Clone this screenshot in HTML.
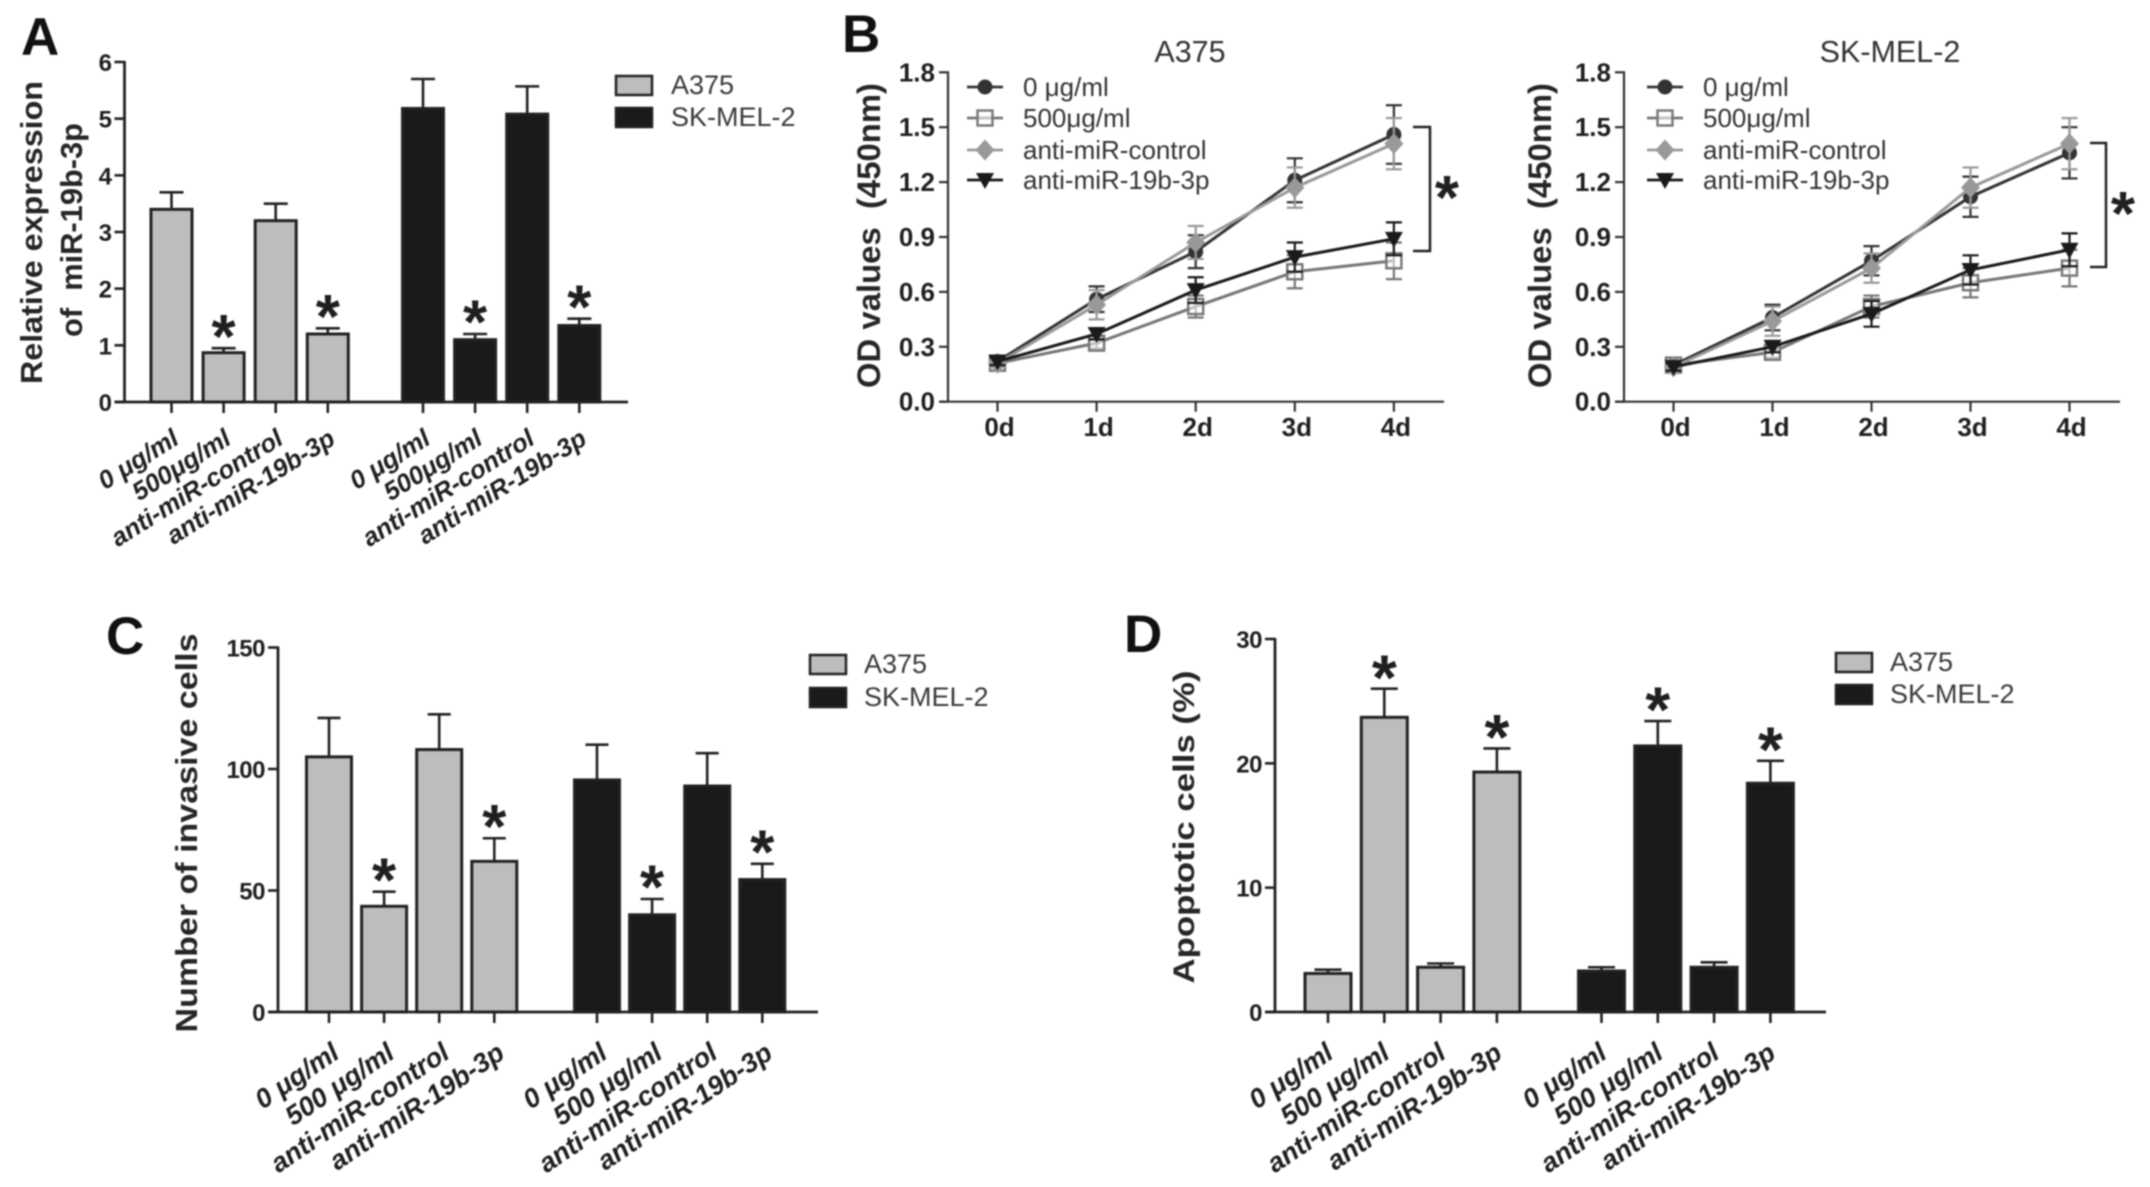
<!DOCTYPE html>
<html lang="en">
<head>
<meta charset="utf-8">
<title>miR-19b-3p figure</title>
<style>
html,body{margin:0;padding:0;background:#fff;width:2150px;height:1187px;overflow:hidden}
svg{display:block;filter:blur(0.8px)}
text{font-family:"Liberation Sans",sans-serif;fill:#1f1f1f}
.letter{font-size:53px;font-weight:700;fill:#111}
.ttl{font-weight:700;fill:#262626}
.leg{font-size:27px;fill:#3a3a3a}
.legb{font-size:26px;fill:#333}
.title{font-size:30.5px;fill:#333;text-anchor:middle}
</style>
</head>
<body>
<svg id="chart" xmlns="http://www.w3.org/2000/svg" width="2150" height="1187" viewBox="0 0 2150 1187">
  <rect x="0" y="0" width="2150" height="1187" fill="#fff"/>

  <text class="letter" x="21" y="55">A</text>
  <text class="letter" x="842" y="52">B</text>
  <text class="letter" x="106" y="654">C</text>
  <text class="letter" x="1124" y="652">D</text>

  <g>
    <text class="ttl" font-size="31" transform="translate(42,232.5) rotate(-90)" text-anchor="middle" textLength="303" lengthAdjust="spacingAndGlyphs">Relative expression</text>
    <text class="ttl" font-size="31" transform="translate(82,230) rotate(-90)" text-anchor="middle" textLength="214" lengthAdjust="spacingAndGlyphs" xml:space="preserve">of  miR-19b-3p</text>
  </g>
  <text class="ttl" font-size="32" transform="translate(880,235.5) rotate(-90)" text-anchor="middle" textLength="305" lengthAdjust="spacingAndGlyphs" xml:space="preserve">OD values  (450nm)</text>
  <text class="ttl" font-size="32" transform="translate(1551,235.5) rotate(-90)" text-anchor="middle" textLength="305" lengthAdjust="spacingAndGlyphs" xml:space="preserve">OD values  (450nm)</text>
  <text class="ttl" font-size="31" transform="translate(197,833) rotate(-90)" text-anchor="middle" textLength="399" lengthAdjust="spacingAndGlyphs">Number of invasive cells</text>
  <text class="ttl" font-size="30" transform="translate(1194,827) rotate(-90)" text-anchor="middle" textLength="313" lengthAdjust="spacingAndGlyphs">Apoptotic cells (%)</text>

  <text class="title" x="1190" y="62">A375</text>
  <text class="title" x="1890" y="62">SK-MEL-2</text>

  <g>
    <rect x="616" y="76" width="36" height="19" fill="#bdbdbd" stroke="#222" stroke-width="2.5"/>
    <text class="leg" x="671" y="94">A375</text>
    <rect x="616" y="108" width="36" height="19" fill="#1a1a1a" stroke="#222" stroke-width="2.5"/>
    <text class="leg" x="671" y="126">SK-MEL-2</text>
  </g>
  <g>
    <rect x="810" y="655" width="36" height="19" fill="#bdbdbd" stroke="#222" stroke-width="2.5"/>
    <text class="leg" x="864" y="673">A375</text>
    <rect x="810" y="688" width="36" height="19" fill="#1a1a1a" stroke="#222" stroke-width="2.5"/>
    <text class="leg" x="864" y="706">SK-MEL-2</text>
  </g>
  <g>
    <rect x="1836" y="653" width="36" height="19" fill="#bdbdbd" stroke="#222" stroke-width="2.5"/>
    <text class="leg" x="1890" y="671">A375</text>
    <rect x="1836" y="685" width="36" height="19" fill="#1a1a1a" stroke="#222" stroke-width="2.5"/>
    <text class="leg" x="1890" y="703">SK-MEL-2</text>
  </g>

  <g>
    <path d="M1413 127H1430V251H1413" fill="none" stroke="#222" stroke-width="2.5"/>
    <text x="1447" y="219" font-size="62" font-weight="700" text-anchor="middle">*</text>
  </g>
  <g>
    <path d="M2090 143H2106V267H2090" fill="none" stroke="#222" stroke-width="2.5"/>
    <text x="2123" y="235" font-size="62" font-weight="700" text-anchor="middle">*</text>
  </g>
</svg>
<script>
// ---- categories ----
var barCategories = ['0 \u03bcg/ml', '500\u03bcg/ml', 'anti-miR-control', 'anti-miR-19b-3p'];
var barCategoriesSpaced = ['0 \u03bcg/ml', '500 \u03bcg/ml', 'anti-miR-control', 'anti-miR-19b-3p'];
var lineCategories = ['0d', '1d', '2d', '3d', '4d'];

// ---- panel A ----
var aTicks = [0, 1, 2, 3, 4, 5, 6];
var aA375Values = [3.4, 0.87, 3.2, 1.2];
var aA375ErrTop = [3.7, 0.95, 3.5, 1.3];
var aSkmelValues = [5.18, 1.1, 5.08, 1.35];
var aSkmelErrTop = [5.7, 1.2, 5.57, 1.47];
var aStars = [false, true, false, true];

// ---- panel C ----
var cTicks = [0, 50, 100, 150];
var cA375Values = [105, 43.5, 108, 62];
var cA375ErrTop = [121, 49.5, 122.5, 71.5];
var cSkmelValues = [95.5, 40, 93, 54.5];
var cSkmelErrTop = [110, 46.5, 106.5, 61];
var cStars = [false, true, false, true];

// ---- panel D ----
var dTicks = [0, 10, 20, 30];
var dA375Values = [3.1, 23.7, 3.6, 19.3];
var dA375ErrTop = [3.4, 26, 3.9, 21.2];
var dSkmelValues = [3.3, 21.4, 3.6, 18.4];
var dSkmelErrTop = [3.6, 23.4, 4, 20.2];
var dStars = [false, true, false, true];

// ---- panel B ----
var odTicks = ['0.0', '0.3', '0.6', '0.9', '1.2', '1.5', '1.8'];
var seriesNames = ['0 \u03bcg/ml', '500\u03bcg/ml', 'anti-miR-control', 'anti-miR-19b-3p'];

var b1Control = [0.22, 0.56, 0.82, 1.21, 1.46];
var b1ControlErr = [0.02, 0.07, 0.09, 0.12, 0.16];
var b1Dose500 = [0.21, 0.32, 0.52, 0.71, 0.77];
var b1Dose500Err = [0.02, 0.03, 0.06, 0.09, 0.10];
var b1AntiCtrl = [0.21, 0.53, 0.87, 1.17, 1.41];
var b1AntiCtrlErr = [0.02, 0.08, 0.09, 0.11, 0.14];
var b1Anti19b = [0.22, 0.37, 0.61, 0.79, 0.89];
var b1Anti19bErr = [0.02, 0.03, 0.07, 0.08, 0.09];

var b2Control = [0.20, 0.46, 0.77, 1.12, 1.36];
var b2ControlErr = [0.02, 0.07, 0.08, 0.11, 0.14];
var b2Dose500 = [0.20, 0.27, 0.52, 0.65, 0.73];
var b2Dose500Err = [0.02, 0.03, 0.06, 0.08, 0.10];
var b2AntiCtrl = [0.19, 0.44, 0.73, 1.17, 1.41];
var b2AntiCtrlErr = [0.02, 0.08, 0.08, 0.11, 0.14];
var b2Anti19b = [0.19, 0.30, 0.48, 0.72, 0.83];
var b2Anti19bErr = [0.02, 0.03, 0.07, 0.08, 0.09];

var NS = 'http://www.w3.org/2000/svg';
var svg = document.getElementById('chart');

function el(parent, tag, attrs, txt) {
  var n = document.createElementNS(NS, tag);
  for (var k in attrs) n.setAttribute(k, attrs[k]);
  if (txt !== undefined) n.textContent = txt;
  parent.appendChild(n);
  return n;
}

function drawBarPanel(name, o) {
  var g = el(svg, 'g', {});
  
  
  var yMax = o.ticks[o.ticks.length - 1];
  var y = function (v) { return o.y0 + (o.yTop - o.y0) * v / yMax; };
  var x = function (group, i) { return o.start + o.step * i + group * o.groupOffset; };

  var groups = [
    { vals: o.a375, tops: o.a375Top, fill: '#bdbdbd', key: 'a375' },
    { vals: o.skmel, tops: o.skmelTop, fill: '#1a1a1a', key: 'skmel2' }
  ];
  groups.forEach(function (s, gi) {
    s.vals.forEach(function (v, i) {
      var cx = x(gi, i);
      var err = el(g, 'path', { d: 'M' + cx + ' ' + y(v) + 'V' + y(s.tops[i]) + 'M' + (cx - o.cap / 2) + ' ' + y(s.tops[i]) + 'H' + (cx + o.cap / 2), stroke: '#222', 'stroke-width': 2.6, fill: 'none' });
      
      
      var bar = el(g, 'rect', { x: cx - o.barW / 2 + 1.5, y: y(v), width: o.barW - 3, height: o.y0 - y(v), fill: s.fill, stroke: '#222', 'stroke-width': 3 });
      
      
      if (o.stars[i]) {
        var star = el(g, 'text', { x: cx, y: y(s.tops[i]) - 17 + 0.43 * o.starSize, 'font-size': o.starSize, 'font-weight': 700, 'text-anchor': 'middle', fill: '#111' }, '*');
        
        
      }
      var tick = el(g, 'line', { x1: cx, x2: cx, y1: o.y0, y2: o.y0 + 11, stroke: '#222', 'stroke-width': 2.6 });
      
      
      var lx = cx + o.labelDx, ly = o.y0 + o.labelDy;
      var lab = el(g, 'text', { transform: 'translate(' + lx + ',' + ly + ') rotate(' + (-o.angle) + ')', 'text-anchor': 'end', 'font-size': o.labelSize, 'font-weight': 700, 'font-style': 'italic' }, o.categories[i]);
      
      
    });
  });

  var yAxis = el(g, 'line', { x1: o.axisX, x2: o.axisX, y1: y(yMax) - 1, y2: o.y0, stroke: '#222', 'stroke-width': 2.8 });
  
  
  var xAxis = el(g, 'line', { x1: o.axisX - o.tickLen, x2: o.axisEnd, y1: o.y0, y2: o.y0, stroke: '#222', 'stroke-width': 2.8 });
  
  
  o.ticks.forEach(function (t) {
    var tk = el(g, 'line', { x1: o.axisX - o.tickLen, x2: o.axisX, y1: y(t), y2: y(t), stroke: '#222', 'stroke-width': 2.6 });
    
    
    var tl = el(g, 'text', { x: o.axisX - o.tickLen - 3, y: y(t) + 9, 'text-anchor': 'end', 'font-size': 24, 'font-weight': 700 , 'letter-spacing': '-0.5' }, t);
    
    
  });
}

function marker(g, kind, cx, cy) {
  var m;
  if (kind === 0) m = el(g, 'circle', { cx: cx, cy: cy, r: 7.5, fill: '#333' });
  if (kind === 1) m = el(g, 'rect', { x: cx - 7.5, y: cy - 7.5, width: 15, height: 15, fill: '#fff', 'fill-opacity': 0.55, stroke: '#777', 'stroke-width': 2.4 });
  if (kind === 2) m = el(g, 'path', { d: 'M' + cx + ' ' + (cy - 10.5) + 'L' + (cx + 9.5) + ' ' + cy + 'L' + cx + ' ' + (cy + 10.5) + 'L' + (cx - 9.5) + ' ' + cy + 'Z', fill: '#999' });
  if (kind === 3) m = el(g, 'path', { d: 'M' + (cx - 9) + ' ' + (cy - 7) + 'H' + (cx + 9) + 'L' + cx + ' ' + (cy + 9) + 'Z', fill: '#1a1a1a' });
  return m;
}

function drawLinePanel(name, o) {
  var g = el(svg, 'g', {});
  
  
  var yMax = parseFloat(odTicks[odTicks.length - 1]);
  var y = function (v) { return 401.7 + (72.3 - 401.7) * v / yMax; };
  var x = function (i) { return o.x0 + o.step * i; };
  var styles = ['#333', '#777', '#999', '#1a1a1a'];

  var yAxis = el(g, 'line', { x1: o.axisX, x2: o.axisX, y1: y(yMax) - 1, y2: y(0), stroke: '#333', 'stroke-width': 2.2 });
  
  
  var xAxis = el(g, 'line', { x1: o.axisX - 9, x2: o.axisEnd, y1: y(0), y2: y(0), stroke: '#333', 'stroke-width': 2.2 });
  
  
  odTicks.forEach(function (t) {
    var v = parseFloat(t);
    var tk = el(g, 'line', { x1: o.axisX - 9, x2: o.axisX, y1: y(v), y2: y(v), stroke: '#333', 'stroke-width': 2.2 });
    
    
    var tl = el(g, 'text', { x: o.axisX - 13, y: y(v) + 9, 'text-anchor': 'end', 'font-size': 26, 'font-weight': 700 }, t);
    
    
  });
  lineCategories.forEach(function (c, i) {
    var tk = el(g, 'line', { x1: x(i), x2: x(i), y1: y(0), y2: y(0) + 10, stroke: '#333', 'stroke-width': 2.2 });
    
    
    var tl = el(g, 'text', { x: x(i) + 2, y: 436, 'text-anchor': 'middle', 'font-size': 26, 'font-weight': 700 }, c);
    
    
  });

  o.series.forEach(function (s, k) {
    var sg = el(g, 'g', {});
    
    
    var pts = s.vals.map(function (v, i) { return x(i) + ',' + y(v); }).join(' ');
    var line = el(sg, 'polyline', { points: pts, fill: 'none', stroke: styles[k], 'stroke-width': 3 });
    
    
    s.vals.forEach(function (v, i) {
      var hi = y(v + s.err[i]), lo = y(v - s.err[i]), cx = x(i);
      var eb = el(sg, 'path', { d: 'M' + cx + ' ' + lo + 'V' + hi + 'M' + (cx - 8) + ' ' + hi + 'H' + (cx + 8) + 'M' + (cx - 8) + ' ' + lo + 'H' + (cx + 8), stroke: styles[k], 'stroke-width': 2.2, fill: 'none' });
      
      
      var m = marker(sg, k, cx, y(v));
      
      
    });
  });

  var legendYs = [87, 118, 150, 180];
  seriesNames.forEach(function (nm, k) {
    var lg = el(g, 'g', {});
    
    
    var ll = el(lg, 'line', { x1: o.legX, x2: o.legX + 36, y1: legendYs[k], y2: legendYs[k], stroke: styles[k], 'stroke-width': 2.8 });
    
    
    var lm = marker(lg, k, o.legX + 18, legendYs[k]);
    
    
    var lt = el(lg, 'text', { x: o.legX + 56, y: legendYs[k] + 9, 'class': 'legb' }, nm);
    
    
  });
}

drawBarPanel('panel-a-expression-chart', {
  ticks: aTicks, a375: aA375Values, a375Top: aA375ErrTop, skmel: aSkmelValues, skmelTop: aSkmelErrTop, stars: aStars,
  categories: barCategories, y0: 402, yTop: 62, axisX: 124.5, axisEnd: 628, tickLen: 10,
  start: 171.5, step: 52.1, groupOffset: 251.5, barW: 44, cap: 24, starSize: 62,
  labelDx: 9, labelDy: 41, labelSize: 25.5, angle: 32
});
drawBarPanel('panel-c-invasion-chart', {
  ticks: cTicks, a375: cA375Values, a375Top: cA375ErrTop, skmel: cSkmelValues, skmelTop: cSkmelErrTop, stars: cStars,
  categories: barCategoriesSpaced, y0: 1012, yTop: 647.5, axisX: 278, axisEnd: 818, tickLen: 10,
  start: 329, step: 55.1, groupOffset: 268, barW: 48, cap: 23, starSize: 62,
  labelDx: 12, labelDy: 45, labelSize: 27, angle: 34
});
drawBarPanel('panel-d-apoptosis-chart', {
  ticks: dTicks, a375: dA375Values, a375Top: dA375ErrTop, skmel: dSkmelValues, skmelTop: dSkmelErrTop, stars: dStars,
  categories: barCategoriesSpaced, y0: 1012, yTop: 639, axisX: 1275, axisEnd: 1826, tickLen: 10,
  start: 1328, step: 56.3, groupOffset: 273.5, barW: 49, cap: 27, starSize: 64,
  labelDx: 7, labelDy: 45, labelSize: 27, angle: 34
});
drawLinePanel('panel-b-a375-chart', {
  axisX: 948, axisEnd: 1444, x0: 997.5, step: 99.1, legX: 967,
  series: [
    { vals: b1Control, err: b1ControlErr },
    { vals: b1Dose500, err: b1Dose500Err },
    { vals: b1AntiCtrl, err: b1AntiCtrlErr },
    { vals: b1Anti19b, err: b1Anti19bErr }
  ]
});
drawLinePanel('panel-b-skmel2-chart', {
  axisX: 1624, axisEnd: 2120, x0: 1673.5, step: 99, legX: 1647,
  series: [
    { vals: b2Control, err: b2ControlErr },
    { vals: b2Dose500, err: b2Dose500Err },
    { vals: b2AntiCtrl, err: b2AntiCtrlErr },
    { vals: b2Anti19b, err: b2Anti19bErr }
  ]
});
</script>
</body>
</html>
